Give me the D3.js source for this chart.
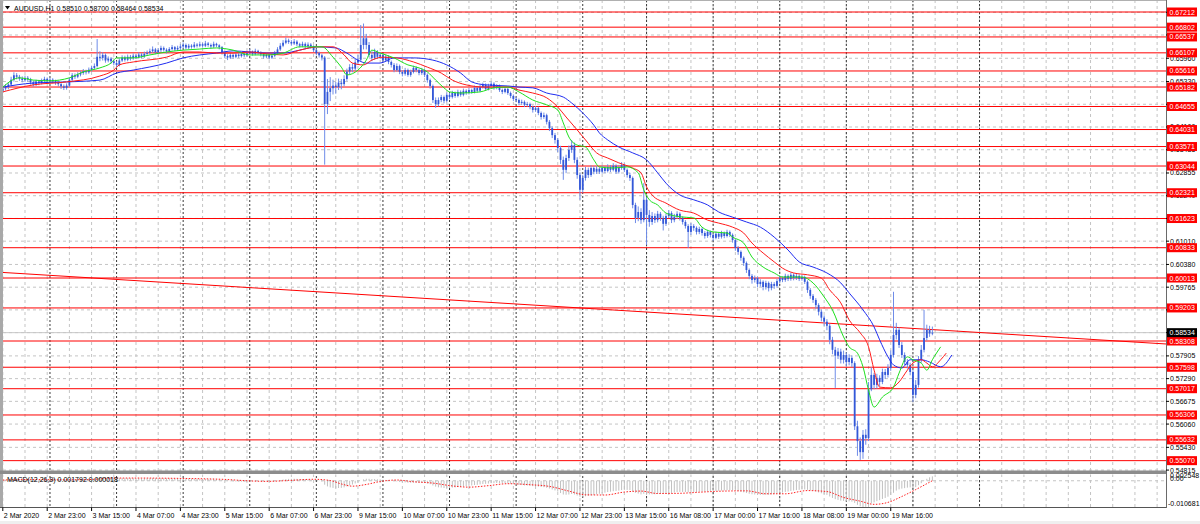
<!DOCTYPE html>
<html><head><meta charset="utf-8">
<script src="https://cdn.jsdelivr.net/npm/d3@7"></script>
<style>
html,body{margin:0;padding:0;background:#fff;overflow:hidden}
svg{display:block}
text{font-family:"Liberation Sans",Arial,sans-serif;font-size:7px;fill:#000}
</style></head><body>
<svg id="c" width="1200" height="524"></svg>
<script>
// ---------------- DATA ----------------
const chartTitle = "AUDUSD,H1";
const lastOHLC = ["0.58510","0.58700","0.58464","0.58534"];
const macdTitle = "MACD(12,26,9) 0.001792 0.000018";

const opens = [
.6508,.6514,.6518,.6525,.6538,.6550,.6546,.6541,.6537,.6543,
.6539,.6531,.6525,.6533,.6529,.6536,.6540,.6535,.6538,.6534,
.6530,.6526,.6520,.6516,.6522,.6538,.6550,.6546,.6552,.6556,
.6561,.6558,.6565,.6570,.6575,.6600,.6597,.6605,.6590,.6595,
.6588,.6583,.6578,.6590,.6598,.6592,.6600,.6596,.6603,.6599,
.6606,.6601,.6608,.6611,.6615,.6620,.6612,.6618,.6624,.6619,
.6615,.6621,.6626,.6620,.6624,.6628,.6632,.6625,.6630,.6627,
.6633,.6630,.6634,.6630,.6636,.6632,.6628,.6635,.6631,.6626,
.6612,.6602,.6598,.6605,.6600,.6606,.6602,.6608,.6604,.6610,
.6614,.6608,.6616,.6611,.6607,.6601,.6605,.6598,.6603,.6610,
.6620,.6630,.6638,.6644,.6640,.6636,.6641,.6634,.6630,.6635,
.6629,.6633,.6628,.6618,.6610,.6604,.6598,.6472,.6505,.6515,
.6522,.6518,.6530,.6526,.6540,.6560,.6572,.6568,.6585,.6592,
.6632,.6650,.6632,.6605,.6597,.6613,.6600,.6605,.6591,.6600,
.6586,.6578,.6564,.6575,.6559,.6554,.6564,.6551,.6559,.6570,
.6564,.6556,.6564,.6551,.6537,.6521,.6483,.6472,.6483,.6491,
.6481,.6497,.6491,.6502,.6494,.6505,.6497,.6508,.6502,.6510,
.6505,.6516,.6508,.6518,.6524,.6513,.6521,.6527,.6516,.6521,
.6510,.6505,.6513,.6502,.6494,.6486,.6483,.6475,.6478,.6470,
.6472,.6464,.6456,.6461,.6448,.6437,.6442,.6424,.6407,.6388,
.6375,.6353,.6321,.6294,.6326,.6348,.6361,.6321,.6280,.6240,
.6272,.6294,.6280,.6299,.6289,.6297,.6289,.6299,.6291,.6302,
.6294,.6305,.6289,.6299,.6307,.6294,.6280,.6272,.6199,.6164,
.6180,.6158,.6213,.6172,.6153,.6169,.6158,.6175,.6164,.6148,
.6169,.6177,.6158,.6167,.6175,.6164,.6153,.6142,.6126,.6142,
.6137,.6126,.6134,.6123,.6115,.6126,.6118,.6110,.6121,.6113,
.6123,.6115,.6126,.6118,.6104,.6083,.6072,.6056,.6042,.6023,
.6007,.5996,.6001,.5985,.5991,.5977,.5988,.5974,.5985,.5980,
.5993,.6001,.5996,.6007,.5999,.6010,.6001,.6007,.5999,.6004,
.5991,.5969,.5953,.5942,.5928,.5910,.5894,.5883,.5872,.5834,
.5807,.5791,.5802,.5780,.5793,.5774,.5785,.5771,.5600,.5560,
.5530,.5577,.5568,.5700,.5739,.5712,.5731,.5720,.5747,.5739,
.5758,.5793,.5847,.5861,.5820,.5793,.5774,.5766,.5747,.5685,
.5712,.5780,.5807,.5839,.5861,.5851];

const highs = [
.6522,.6526,.6531,.6546,.6558,.6556,.6551,.6547,.6549,.6548,
.6543,.6536,.6538,.6537,.6541,.6546,.6544,.6543,.6542,.6538,
.6535,.6530,.6525,.6528,.6544,.6556,.6555,.6558,.6562,.6567,
.6565,.6571,.6576,.6582,.6648,.6615,.6612,.6609,.6601,.6599,
.6592,.6588,.6595,.6604,.6603,.6606,.6605,.6609,.6607,.6612,
.6610,.6614,.6617,.6622,.6628,.6624,.6623,.6630,.6628,.6623,
.6626,.6632,.6629,.6630,.6634,.6639,.6636,.6635,.6634,.6640,
.6637,.6641,.6638,.6643,.6640,.6636,.6641,.6638,.6634,.6629,
.6615,.6607,.6610,.6609,.6611,.6610,.6613,.6612,.6616,.6621,
.6617,.6622,.6619,.6615,.6611,.6610,.6608,.6608,.6616,.6626,
.6637,.6645,.6652,.6649,.6645,.6648,.6645,.6638,.6641,.6639,
.6639,.6637,.6631,.6622,.6614,.6608,.6602,.6540,.6545,.6538,
.6532,.6541,.6540,.6550,.6568,.6580,.6582,.6594,.6605,.6686,
.6690,.6662,.6640,.6615,.6622,.6618,.6612,.6609,.6606,.6604,
.6590,.6583,.6582,.6579,.6564,.6570,.6568,.6565,.6576,.6574,
.6568,.6570,.6567,.6555,.6541,.6525,.6490,.6490,.6497,.6495,
.6503,.6502,.6508,.6506,.6511,.6509,.6514,.6512,.6516,.6514,
.6522,.6520,.6524,.6530,.6528,.6527,.6533,.6531,.6526,.6525,
.6514,.6518,.6516,.6506,.6498,.6491,.6487,.6484,.6482,.6478,
.6476,.6468,.6467,.6465,.6452,.6449,.6446,.6429,.6412,.6394,
.6380,.6359,.6330,.6335,.6360,.6375,.6368,.6328,.6286,.6281,
.6302,.6300,.6306,.6304,.6304,.6301,.6306,.6304,.6309,.6307,
.6312,.6309,.6306,.6315,.6311,.6298,.6286,.6276,.6205,.6195,
.6190,.6258,.6220,.6185,.6180,.6176,.6183,.6180,.6170,.6176,
.6185,.6182,.6175,.6182,.6179,.6168,.6158,.6147,.6150,.6147,
.6141,.6140,.6138,.6128,.6132,.6130,.6122,.6127,.6125,.6129,
.6127,.6132,.6130,.6122,.6108,.6088,.6076,.6060,.6046,.6027,
.6012,.6008,.6005,.5998,.5995,.5994,.5992,.5991,.5990,.5999,
.6008,.6006,.6013,.6011,.6016,.6014,.6013,.6011,.6010,.6008,
.5995,.5974,.5958,.5947,.5933,.5916,.5900,.5890,.5878,.5842,
.5815,.5812,.5810,.5805,.5800,.5795,.5792,.5776,.5615,.5570,
.5590,.5592,.5720,.5760,.5745,.5742,.5738,.5756,.5755,.5768,
.5805,.5964,.5880,.5868,.5828,.5800,.5782,.5772,.5752,.5725,
.5790,.5820,.5915,.5875,.5872,.5870];

const lows = [
.6503,.6509,.6512,.6520,.6533,.6539,.6535,.6531,.6532,.6533,
.6525,.6519,.6521,.6523,.6525,.6531,.6530,.6530,.6528,.6524,
.6520,.6513,.6510,.6511,.6518,.6534,.6540,.6542,.6547,.6551,
.6552,.6554,.6560,.6566,.6571,.6588,.6590,.6584,.6585,.6581,
.6577,.6572,.6574,.6586,.6587,.6588,.6590,.6592,.6594,.6595,
.6596,.6597,.6603,.6606,.6610,.6607,.6608,.6613,.6614,.6609,
.6611,.6617,.6615,.6616,.6619,.6623,.6620,.6621,.6622,.6623,
.6625,.6626,.6625,.6626,.6627,.6622,.6624,.6626,.6620,.6606,
.6596,.6591,.6594,.6595,.6596,.6597,.6598,.6599,.6600,.6606,
.6603,.6604,.6606,.6601,.6595,.6596,.6593,.6594,.6599,.6606,
.6616,.6626,.6634,.6635,.6630,.6632,.6629,.6625,.6626,.6624,
.6625,.6622,.6613,.6604,.6598,.6590,.6308,.6445,.6480,.6498,
.6500,.6510,.6512,.6520,.6535,.6552,.6558,.6562,.6578,.6588,
.6620,.6620,.6598,.6588,.6592,.6594,.6594,.6585,.6586,.6580,
.6571,.6558,.6560,.6553,.6547,.6549,.6546,.6546,.6555,.6558,
.6550,.6551,.6545,.6530,.6514,.6475,.6462,.6466,.6477,.6474,
.6477,.6485,.6487,.6489,.6490,.6492,.6493,.6497,.6498,.6500,
.6501,.6503,.6504,.6514,.6508,.6509,.6517,.6511,.6512,.6505,
.6499,.6501,.6497,.6488,.6480,.6477,.6469,.6470,.6464,.6465,
.6458,.6449,.6451,.6442,.6430,.6432,.6417,.6399,.6380,.6365,
.6342,.6310,.6267,.6285,.6318,.6340,.6312,.6270,.6213,.6232,
.6265,.6272,.6275,.6282,.6283,.6283,.6284,.6285,.6287,.6288,
.6290,.6283,.6284,.6294,.6288,.6273,.6264,.6190,.6150,.6155,
.6148,.6152,.6091,.6140,.6145,.6150,.6152,.6156,.6130,.6142,
.6163,.6150,.6152,.6161,.6157,.6146,.6135,.6083,.6118,.6129,
.6119,.6120,.6116,.6108,.6110,.6111,.6102,.6106,.6107,.6108,
.6109,.6111,.6112,.6097,.6075,.6064,.6048,.6034,.6015,.5998,
.5986,.5989,.5976,.5978,.5968,.5970,.5965,.5968,.5972,.5975,
.5988,.5990,.5991,.5993,.5994,.5995,.5996,.5993,.5994,.5985,
.5961,.5945,.5934,.5918,.5900,.5884,.5872,.5860,.5822,.5795,
.5704,.5782,.5770,.5770,.5762,.5765,.5760,.5590,.5520,.5509,
.5512,.5550,.5560,.5695,.5700,.5702,.5708,.5714,.5728,.5732,
.5750,.5786,.5835,.5812,.5785,.5765,.5756,.5738,.5666,.5676,
.5705,.5772,.5800,.5832,.5842,.58464];

const closes = [
.6514,.6518,.6525,.6538,.6550,.6546,.6541,.6537,.6543,.6539,
.6531,.6525,.6533,.6529,.6536,.6540,.6535,.6538,.6534,.6530,
.6526,.6520,.6516,.6522,.6538,.6550,.6546,.6552,.6556,.6561,
.6558,.6565,.6570,.6575,.6600,.6597,.6605,.6590,.6595,.6588,
.6583,.6578,.6590,.6598,.6592,.6600,.6596,.6603,.6599,.6606,
.6601,.6608,.6611,.6615,.6620,.6612,.6618,.6624,.6619,.6615,
.6621,.6626,.6620,.6624,.6628,.6632,.6625,.6630,.6627,.6633,
.6630,.6634,.6630,.6636,.6632,.6628,.6635,.6631,.6626,.6612,
.6602,.6598,.6605,.6600,.6606,.6602,.6608,.6604,.6610,.6614,
.6608,.6616,.6611,.6607,.6601,.6605,.6598,.6603,.6610,.6620,
.6630,.6638,.6644,.6640,.6636,.6641,.6634,.6630,.6635,.6629,
.6633,.6628,.6618,.6610,.6604,.6598,.6472,.6505,.6515,.6522,
.6518,.6530,.6526,.6540,.6560,.6572,.6568,.6585,.6592,.6632,
.6650,.6632,.6605,.6597,.6613,.6600,.6605,.6591,.6600,.6586,
.6578,.6564,.6575,.6559,.6554,.6564,.6551,.6559,.6570,.6564,
.6556,.6564,.6551,.6537,.6521,.6483,.6472,.6483,.6491,.6481,
.6497,.6491,.6502,.6494,.6505,.6497,.6508,.6502,.6510,.6505,
.6516,.6508,.6518,.6524,.6513,.6521,.6527,.6516,.6521,.6510,
.6505,.6513,.6502,.6494,.6486,.6483,.6475,.6478,.6470,.6472,
.6464,.6456,.6461,.6448,.6437,.6442,.6424,.6407,.6388,.6375,
.6353,.6321,.6294,.6326,.6348,.6361,.6321,.6280,.6240,.6272,
.6294,.6280,.6299,.6289,.6297,.6289,.6299,.6291,.6302,.6294,
.6305,.6289,.6299,.6307,.6294,.6280,.6272,.6199,.6164,.6180,
.6158,.6213,.6172,.6153,.6169,.6158,.6175,.6164,.6148,.6169,
.6177,.6158,.6167,.6175,.6164,.6153,.6142,.6126,.6142,.6137,
.6126,.6134,.6123,.6115,.6126,.6118,.6110,.6121,.6113,.6123,
.6115,.6126,.6118,.6104,.6083,.6072,.6056,.6042,.6023,.6007,
.5996,.6001,.5985,.5991,.5977,.5988,.5974,.5985,.5980,.5993,
.6001,.5996,.6007,.5999,.6010,.6001,.6007,.5999,.6004,.5991,
.5969,.5953,.5942,.5928,.5910,.5894,.5883,.5872,.5834,.5807,
.5791,.5802,.5780,.5793,.5774,.5785,.5771,.5600,.5560,.5530,
.5577,.5568,.5700,.5739,.5712,.5731,.5720,.5747,.5739,.5758,
.5793,.5847,.5861,.5820,.5793,.5774,.5766,.5747,.5685,.5712,
.5780,.5807,.5839,.5861,.5851,.58534];

// Alligator lines: [bar index, price]
const jawPoints = [[0,.6518],[11,.6529],[23,.6532],[35,.6537],[41,.6556],[47,.6564],[59,.6583],[65,.6597],[71,.6605],[77,.6610],[83,.6616],[89,.6613],[95,.6610],[101,.6610],[107,.6618],[113,.6627],[120,.6624],[124,.6610],[128,.6591],[131,.6583],[136,.6583],[141,.6597],[148,.6597],[155,.6591],[160,.6578],[165,.6556],[169,.6532],[174,.6524],[182,.6521],[186,.6518],[191,.6516],[196,.6502],[202,.6491],[205,.6475],[209,.6448],[213,.6415],[215,.6394],[218,.6375],[222,.6356],[227,.6340],[232,.6321],[236,.6286],[239,.6258],[244,.6226],[249,.6213],[254,.6199],[258,.6180],[263,.6166],[268,.6153],[273,.6139],[278,.6112],[283,.6077],[287,.6045],[292,.6031],[297,.6015],[302,.5988],[305,.5961],[310,.5915],[314,.5869],[316,.5834],[319,.5788],[321,.5766],[324,.5758],[327,.5780],[331,.5780],[334,.5774],[338,.5761],[342,.5793]];
const teethPoints = [[0,.6505],[11,.6524],[23,.6532],[35,.6548],[40,.6564],[42,.6578],[47,.6586],[59,.6599],[65,.6613],[71,.6613],[77,.6610],[83,.6610],[89,.6613],[95,.6608],[101,.6605],[107,.6618],[114,.6627],[119,.6627],[123,.6605],[126,.6583],[130,.6578],[133,.6591],[137,.6599],[142,.6597],[148,.6586],[153,.6572],[158,.6556],[162,.6537],[167,.6524],[174,.6518],[182,.6518],[186,.6510],[191,.6502],[196,.6489],[200,.6464],[203,.6437],[207,.6402],[210,.6375],[214,.6340],[218,.6326],[222,.6313],[227,.6299],[230,.6286],[232,.6248],[234,.6226],[239,.6204],[244,.6185],[249,.6177],[254,.6158],[258,.6150],[263,.6139],[267,.6123],[270,.6096],[274,.6069],[278,.6045],[281,.6028],[285,.6015],[290,.6010],[295,.6001],[298,.5969],[302,.5934],[305,.5888],[309,.5853],[312,.5815],[314,.5752],[316,.5706],[320,.5704],[323,.5720],[326,.5752],[328,.5771],[331,.5780],[333,.5771],[335,.5761],[338,.5780],[340,.5798]];
const lipsPoints = [[0,.6518],[6,.6543],[11,.6537],[17,.6535],[24,.6543],[29,.6559],[35,.6570],[39,.6583],[41,.6597],[47,.6597],[53,.6605],[59,.6613],[65,.6618],[71,.6621],[77,.6624],[83,.6618],[89,.6605],[95,.6605],[101,.6610],[107,.6627],[115,.6627],[119,.6599],[122,.6572],[124,.6551],[128,.6564],[131,.6591],[133,.6618],[136,.6610],[141,.6597],[146,.6578],[150,.6570],[153,.6559],[156,.6537],[159,.6516],[161,.6505],[165,.6502],[172,.6505],[177,.6516],[182,.6518],[186,.6505],[191,.6483],[196,.6470],[200,.6456],[202,.6421],[204,.6383],[207,.6361],[210,.6356],[213,.6321],[215,.6302],[220,.6299],[225,.6302],[229,.6286],[231,.6240],[233,.6213],[236,.6199],[239,.6177],[244,.6167],[249,.6164],[252,.6139],[256,.6126],[261,.6123],[263,.6112],[267,.6096],[270,.6058],[274,.6031],[278,.6015],[281,.6004],[285,.6004],[288,.6004],[292,.5988],[296,.5950],[299,.5915],[303,.5842],[305,.5815],[308,.5798],[310,.5761],[312,.5698],[314,.5652],[317,.5679],[321,.5706],[323,.5744],[326,.5788],[328,.5780],[331,.5771],[333,.5752],[335,.5780],[338,.5815]];

const macdMain = [
.00030,.00035,.00042,.00055,.00068,.00072,.00070,.00066,.00065,.00062,
.00055,.00046,.00044,.00040,.00041,.00043,.00040,.00039,.00035,.00030,
.00024,.00016,.00010,.00010,.00022,.00038,.00045,.00055,.00064,.00074,
.00078,.00086,.00094,.00102,.00125,.00138,.00152,.00148,.00146,.00138,
.00126,.00112,.00108,.00110,.00106,.00108,.00104,.00106,.00102,.00104,
.00100,.00102,.00104,.00108,.00112,.00106,.00106,.00108,.00104,.00098,
.00096,.00098,.00092,.00090,.00090,.00092,.00086,.00084,.00080,.00080,
.00076,.00076,.00072,.00072,.00068,.00062,.00062,.00058,.00050,.00030,
.00008,-.00012,-.00020,-.00030,-.00032,-.00038,-.00036,-.00036,-.00030,-.00022,
-.00022,-.00012,-.00010,-.00010,-.00014,-.00012,-.00016,-.00014,-.00006,.00010,
.00030,.00050,.00068,.00076,.00078,.00082,.00078,.00070,.00066,.00056,
.00050,.00040,.00024,.00006,-.00012,-.00030,-.00160,-.00230,-.00270,-.00290,
-.00300,-.00295,-.00290,-.00270,-.00230,-.00185,-.00155,-.00110,-.00070,.00000,
.00055,.00080,.00078,.00068,.00070,.00060,.00054,.00040,.00034,.00018,
.00002,-.00020,-.00028,-.00048,-.00064,-.00068,-.00082,-.00086,-.00080,-.00080,
-.00086,-.00084,-.00094,-.00112,-.00140,-.00192,-.00240,-.00268,-.00280,-.00296,
-.00292,-.00290,-.00278,-.00272,-.00256,-.00248,-.00230,-.00220,-.00204,-.00192,
-.00174,-.00166,-.00148,-.00130,-.00126,-.00114,-.00100,-.00098,-.00092,-.00096,
-.00102,-.00100,-.00108,-.00120,-.00136,-.00150,-.00166,-.00176,-.00190,-.00196,
-.00206,-.00220,-.00224,-.00238,-.00256,-.00262,-.00284,-.00316,-.00356,-.00394,
-.00440,-.00500,-.00560,-.00570,-.00560,-.00540,-.00560,-.00600,-.00650,-.00650,
-.00630,-.00620,-.00595,-.00575,-.00550,-.00530,-.00505,-.00485,-.00460,-.00445,
-.00425,-.00415,-.00400,-.00380,-.00372,-.00372,-.00376,-.00430,-.00490,-.00520,
-.00555,-.00530,-.00540,-.00555,-.00550,-.00550,-.00535,-.00530,-.00535,-.00520,
-.00500,-.00495,-.00480,-.00460,-.00455,-.00455,-.00460,-.00470,-.00460,-.00455,
-.00455,-.00445,-.00440,-.00440,-.00430,-.00425,-.00425,-.00415,-.00410,-.00400,
-.00395,-.00385,-.00380,-.00385,-.00400,-.00420,-.00445,-.00470,-.00500,-.00530,
-.00550,-.00560,-.00570,-.00575,-.00580,-.00570,-.00570,-.00555,-.00545,-.00525,
-.00500,-.00480,-.00455,-.00440,-.00415,-.00400,-.00380,-.00370,-.00355,-.00355,
-.00370,-.00390,-.00410,-.00440,-.00475,-.00510,-.00545,-.00575,-.00640,-.00700,
-.00750,-.00780,-.00810,-.00820,-.00840,-.00840,-.00850,-.00900,-.00980,-.01040,
-.01068,-.01060,-.01000,-.00920,-.00880,-.00830,-.00790,-.00740,-.00700,-.00650,
-.00580,-.00490,-.00400,-.00350,-.00320,-.00300,-.00280,-.00270,-.00290,-.00260,
-.00180,-.00100,-.00010,.00080,.00140,.00179];

const macdSignal = [[0,.00030],[10,.00050],[20,.00040],[30,.00045],[40,.00110],[50,.00110],[60,.00102],[70,.00085],[80,.00055],[88,.00000],[95,-.00025],[103,.00010],[112,.00060],[118,.00010],[122,-.00130],[126,-.00220],[131,-.00150],[136,-.00030],[142,.00030],[148,-.00040],[155,-.00095],[162,-.00210],[168,-.00260],[175,-.00200],[182,-.00120],[190,-.00160],[197,-.00230],[204,-.00420],[210,-.00570],[217,-.00580],[224,-.00460],[230,-.00420],[236,-.00520],[244,-.00510],[252,-.00460],[260,-.00420],[268,-.00410],[275,-.00530],[282,-.00530],[290,-.00400],[297,-.00440],[303,-.00680],[309,-.00830],[314,-.00960],[319,-.00880],[324,-.00640],[329,-.00360],[333,-.00120],[335,.00002]];

const timeLabels = ["2 Mar 2020","2 Mar 23:00","3 Mar 15:00","4 Mar 07:00","4 Mar 23:00","5 Mar 15:00","6 Mar 07:00","6 Mar 23:00","9 Mar 15:00","10 Mar 07:00","10 Mar 23:00","11 Mar 15:00","12 Mar 07:00","12 Mar 23:00","13 Mar 15:00","16 Mar 08:00","17 Mar 00:00","17 Mar 16:00","18 Mar 08:00","19 Mar 00:00","19 Mar 16:00"];
const timeLabelBars = [0,16,32,48,64,80,96,112,128,144,160,176,192,208,224,240,256,272,288,304,320];
const daySeparatorBars = [17,41,65,89,113,137,161,185,209,232,256,280,304,328,352];

// price grid levels; the axis shows the labels that are not hidden under the level tags
const priceTicks = [0.67205,0.66590,0.65960,0.65330,0.64715,0.64100,0.63485,0.62855,0.62240,0.61625,0.61010,0.60380,0.59765,0.59150,0.58535,0.57905,0.57290,0.56675,0.56060,0.55430,0.54815];
const priceTickLabels = ["0.65960","0.65330","0.64100","0.63485","0.62855","0.62240","0.61010","0.60380","0.59765","0.59150","0.57905","0.57290","0.56675","0.56060","0.55430","0.54815"];
const levelPrices = [0.67212,0.66802,0.66537,0.66107,0.65616,0.65182,0.64655,0.64031,0.63571,0.63044,0.62321,0.61623,0.60833,0.60013,0.59203,0.58308,0.57598,0.57017,0.56306,0.55632,0.55070];
const bidPrice = 0.58534;
const trendPoints = [[-2,0.60173],[420,0.58224]];
const macdRange = [-0.010681, 0.002548];
const macdTickLabels = ["0.002548","0.00","-0.010681"];
const macdTickValues = [0.002548, 0.0, -0.010681];

// ---------------- DRAW ----------------
const W=1200,H=524;
const plotR=1166, mainTop=0, mainBot=471, macdTop=474.5, macdBot=507;
const x = d3.scaleLinear().domain([-1.009, 419.2]).range([0, plotR]);
const y = d3.scaleLinear().domain([0.5479, 0.67537]).range([mainBot, mainTop]);
const ym = d3.scaleLinear().domain(macdRange).range([macdBot, macdTop]);

const svg = d3.select("#c");
svg.append("rect").attr("width",W).attr("height",H).attr("fill","#fff");
svg.append("rect").attr("x",0).attr("y",521).attr("width",W).attr("height",3).attr("fill","#efefef");

const defs = svg.append("defs");
defs.append("clipPath").attr("id","clipMain").append("rect").attr("x",3).attr("y",0).attr("width",plotR-3).attr("height",mainBot);
defs.append("clipPath").attr("id","clipMacd").append("rect").attr("x",3).attr("y",macdTop).attr("width",plotR-3).attr("height",macdBot-macdTop);

const gMain = svg.append("g").attr("clip-path","url(#clipMain)");
const gMacd = svg.append("g").attr("clip-path","url(#clipMacd)");
const gridBars = d3.range(0, 420, 8);

gMain.selectAll("line.hg").data(priceTicks).join("line").attr("class","hg")
  .attr("x1",3).attr("x2",plotR).attr("y1",d=>y(d)).attr("y2",d=>y(d))
  .attr("stroke","#c4c4c4").attr("stroke-dasharray","3,3");
gMacd.append("line").attr("x1",3).attr("x2",plotR).attr("y1",ym(0)).attr("y2",ym(0))
  .attr("stroke","#c4c4c4").attr("stroke-dasharray","3,3");

[gMain,gMacd].forEach(g=>{
  g.selectAll("line.vg").data(gridBars).join("line").attr("class","vg")
    .attr("x1",d=>x(d)).attr("x2",d=>x(d)).attr("y1",0).attr("y2",H)
    .attr("stroke","#c4c4c4").attr("stroke-dasharray","3,3");
  g.selectAll("line.ds").data(daySeparatorBars).join("line").attr("class","ds")
    .attr("x1",d=>x(d)).attr("x2",d=>x(d)).attr("y1",0).attr("y2",H)
    .attr("stroke","#3a3a3a").attr("stroke-dasharray","2,2");
});

gMain.selectAll("line.lvl").data(levelPrices).join("line").attr("class","lvl")
  .attr("x1",3).attr("x2",plotR).attr("y1",d=>y(d)).attr("y2",d=>y(d))
  .attr("stroke","#ff0000").attr("stroke-width",1);
gMain.append("line").attr("x1",3).attr("x2",plotR).attr("y1",y(bidPrice)).attr("y2",y(bidPrice))
  .attr("stroke","#c8c8c8");
gMain.append("path").datum(trendPoints)
  .attr("d", d3.line().x(d=>x(d[0])).y(d=>y(d[1])))
  .attr("fill","none").attr("stroke","#ff0000").attr("stroke-width",1);

const idx = d3.range(closes.length);
gMain.selectAll("line.wick").data(idx).join("line").attr("class","wick")
  .attr("x1",i=>x(i)).attr("x2",i=>x(i)).attr("y1",i=>y(highs[i])).attr("y2",i=>y(lows[i]))
  .attr("stroke","#6f8ce8").attr("stroke-width",1);
gMain.selectAll("rect.body").data(idx).join("rect").attr("class","body")
  .attr("x",i=>x(i)-0.9).attr("width",1.8)
  .attr("y",i=>y(Math.max(opens[i],closes[i])))
  .attr("height",i=>Math.max(0.9, Math.abs(y(opens[i])-y(closes[i]))))
  .attr("fill","#3358d8");

const ln = d3.line().x(d=>x(d[0])).y(d=>y(d[1])).curve(d3.curveMonotoneX);
[[jawPoints,"#1f2cf0"],[teethPoints,"#ff1a1a"],[lipsPoints,"#1ee01e"]].forEach(([pts,col])=>{
  gMain.append("path").datum(pts).attr("d",ln).attr("fill","none").attr("stroke",col).attr("stroke-width",1);
});

gMacd.selectAll("line.hist").data(macdMain.map((v,i)=>[i,v])).join("line").attr("class","hist")
  .attr("x1",d=>x(d[0])).attr("x2",d=>x(d[0])).attr("y1",ym(0)).attr("y2",d=>ym(d[1]))
  .attr("stroke","#c0c0c0").attr("stroke-width",1);
gMacd.append("path").datum(macdSignal)
  .attr("d", d3.line().x(d=>x(d[0])).y(d=>ym(d[1])).curve(d3.curveMonotoneX))
  .attr("fill","none").attr("stroke","#ff2020").attr("stroke-width",1).attr("stroke-dasharray","1.5,1.5");

// frames
svg.append("rect").attr("x",0).attr("y",0).attr("width",3).attr("height",508).attr("fill","#a9a9a9");
svg.append("line").attr("x1",0).attr("x2",plotR).attr("y1",0.5).attr("y2",0.5).attr("stroke","#b0b0b0");
svg.append("rect").attr("x",0).attr("y",470.5).attr("width",plotR+1).attr("height",3.5).attr("fill","#8c8c8c");
svg.append("line").attr("x1",0).attr("x2",plotR+1).attr("y1",507.5).attr("y2",507.5).attr("stroke","#555");
svg.append("line").attr("x1",plotR+0.5).attr("x2",plotR+0.5).attr("y1",0).attr("y2",508).attr("stroke","#6a6a6a");

// bottom time axis
svg.selectAll("line.xt").data(timeLabelBars).join("line").attr("class","xt")
  .attr("x1",d=>x(d)).attr("x2",d=>x(d)).attr("y1",507.5).attr("y2",511).attr("stroke","#000");
svg.selectAll("text.xl").data(timeLabels).join("text").attr("class","xl")
  .attr("x",(d,k)=>x(timeLabelBars[k])+1).attr("y",518).text(d=>d);

// right price axis
svg.selectAll("line.yt").data(priceTicks).join("line").attr("class","yt")
  .attr("x1",plotR).attr("x2",plotR+3).attr("y1",d=>y(d)).attr("y2",d=>y(d)).attr("stroke","#000");
svg.selectAll("text.yl").data(priceTickLabels).join("text").attr("class","yl")
  .attr("x",plotR+4).attr("y",d=>y(+d)+2.5).text(d=>d);
const lvlG = svg.selectAll("g.ll").data(levelPrices).join("g").attr("class","ll");
lvlG.append("rect").attr("x",plotR+1).attr("y",d=>y(d)-4.5).attr("width",30).attr("height",9).attr("fill","#ff0000");
lvlG.append("text").attr("x",plotR+3.5).attr("y",d=>y(d)+2.5).style("fill","#fff").text(d=>d.toFixed(5));
svg.append("rect").attr("x",plotR+1).attr("y",y(bidPrice)-4.5).attr("width",30).attr("height",9).attr("fill","#000");
svg.append("text").attr("x",plotR+3.5).attr("y",y(bidPrice)+2.5).style("fill","#fff").text(bidPrice.toFixed(5));

// macd axis labels
svg.selectAll("text.ml").data(macdTickLabels).join("text").attr("class","ml")
  .attr("x",(d,k)=>k===2?plotR+2:plotR+4)
  .attr("y",(d,k)=>k===0?ym(macdTickValues[0])+3.5:(k===2?ym(macdTickValues[2])-1:ym(0)+0.5))
  .text(d=>d);

// titles
svg.append("path").attr("d","M5,6 L10,6 L7.5,9.5 Z").attr("fill","#000");
svg.append("text").attr("x",14).attr("y",11).text(chartTitle + "  " + lastOHLC.join(" "));
svg.append("text").attr("x",7).attr("y",482).text(macdTitle);
</script>
</body></html>
